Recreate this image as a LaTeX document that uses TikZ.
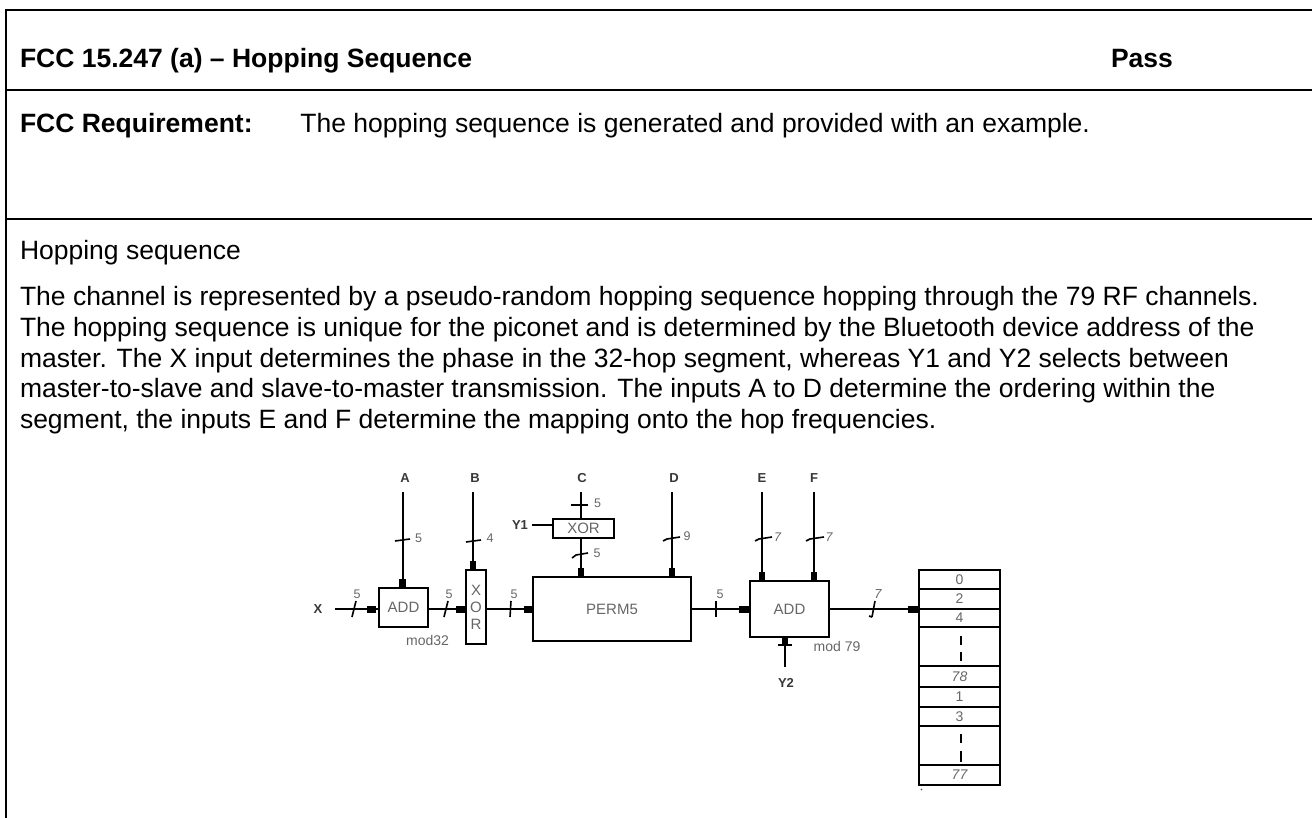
\documentclass[tikz,border=0pt]{standalone}
\usepackage{fontspec}
\setmainfont{Liberation Sans}
\definecolor{lab}{gray}{0.40}
\definecolor{inp}{gray}{0.22}
\tikzset{
  rule/.style={line width=2pt,black},
  body/.style={anchor=base west,inner sep=0pt,outer sep=0pt,font=\fontsize{26.5}{30}\selectfont,text=black},
  bodyb/.style={body,font=\fontsize{26.5}{30}\selectfont\bfseries},
  wire/.style={line width=2pt,black},
  blk/.style={line width=6.5pt,black},
  tick/.style={line width=1.6pt,black},
  box/.style={draw=black,line width=2pt,inner sep=0pt,outer sep=0pt,fill=white,text=lab,font=\fontsize{15}{15}\selectfont},
  cell/.style={box,minimum width=81pt,font=\fontsize{14}{14}\selectfont},
  lbl/.style={inner sep=0pt,text=lab,font=\fontsize{12.5}{12}\selectfont},
  modl/.style={inner sep=0pt,text=lab,font=\fontsize{14}{14}\selectfont},
  inlbl/.style={inner sep=0pt,text=inp,font=\fontsize{13}{13}\selectfont\bfseries},
}
\begin{document}
\begin{tikzpicture}[x=1pt,y=-1pt]
\useasboundingbox (0,0) rectangle (1312,818);
\fill[white] (0,0) rectangle (1312,818);
% table rules
\draw[rule] (5.5,818) -- (5.5,10) -- (1312,10);
\draw[rule] (5.5,90.5) -- (1312,90.5);
\draw[rule] (5.5,219) -- (1312,219);
% text
\node[bodyb] (title) at (20,68) {FCC 15.247 (a) – Hopping Sequence};
\node[bodyb] (pass) at (1111,68) {Pass};
\node[bodyb] (req) at (20,133) {FCC Requirement:};
\node[body,anchor=base east] (reqt) at (1090,133) {The hopping sequence is generated and provided with an example.};
\node[body] (hs) at (20,260) {Hopping sequence};
\node[body] (p1) at (20,306) {The channel is represented by a pseudo-random hopping sequence hopping through the 79 RF channels.};
\node[body] (p2) at (20,337) {The hopping sequence is unique for the piconet and is determined by the Bluetooth device address of the};
\node[body] (p3) at (20,367) {master. The X input determines the phase in the 32-hop segment, whereas Y1 and Y2 selects between};
\node[body] (p4) at (20,397) {master-to-slave and slave-to-master transmission. The inputs A to D determine the ordering within the};
\node[body] (p5) at (20,428) {segment, the inputs E and F determine the mapping onto the hop frequencies.};
% blocks
\node[box,minimum width=49pt,minimum height=39pt] (add1) at (403.5,607.5) {ADD};
\node[box,minimum width=20pt,minimum height=74pt,align=center,font=\fontsize{15}{17}\selectfont] (xor1) at (476,607) {X\\O\\R};
\node[box,minimum width=158pt,minimum height=64pt] (perm) at (612,609) {PERM5};
\node[box,minimum width=61pt,minimum height=19pt] (xor2) at (583.5,528.5) {XOR};
\node[box,minimum width=79pt,minimum height=56pt] (add2) at (789.5,609) {ADD};
% hop table
\node[cell,minimum height=19pt] (c0) at (959.5,579.5) {0};
\node[cell,minimum height=20pt] (c2) at (959.5,599) {2};
\node[cell,minimum height=18pt] (c4) at (959.5,618) {4};
\node[cell,minimum height=39pt] (cd1) at (959.5,646.5) {};
\node[cell,minimum height=21pt,font=\fontsize{14}{14}\selectfont\itshape] (c78) at (959.5,676.5) {78};
\node[cell,minimum height=20pt] (c1) at (959.5,697) {1};
\node[cell,minimum height=19pt] (c3) at (959.5,716.5) {3};
\node[cell,minimum height=39pt] (cd2) at (959.5,745.5) {};
\node[cell,minimum height=20pt,font=\fontsize{14}{14}\selectfont\itshape] (c77) at (959.5,775) {77};
\draw[wire] (960.5,636) -- (960.5,645) (960.5,652) -- (960.5,661);
\draw[wire] (960.5,734) -- (960.5,743) (960.5,751) -- (960.5,762);
\fill[black!70] (921.5,789.5) circle (0.9);
% input labels
\node[inlbl] (lA) at (405,478) {A};
\node[inlbl] (lB) at (475,478) {B};
\node[inlbl] (lC) at (582,478) {C};
\node[inlbl] (lD) at (674,478) {D};
\node[inlbl] (lE) at (762,478) {E};
\node[inlbl] (lF) at (814,478) {F};
\node[inlbl] (lX) at (318,609) {X};
\node[inlbl] (lY1) at (520,525) {Y1};
\node[inlbl] (lY2) at (786,683) {Y2};
\coordinate (tA) at (402.5,492);
\coordinate (tB) at (473,492);
\coordinate (tC) at (581,492);
\coordinate (tD) at (672,492);
\coordinate (tE) at (762,492);
\coordinate (tF) at (814,492);
\coordinate (tX) at (335,609);
\coordinate (tY1) at (532,525);
\coordinate (tY2) at (785,667);
% vertical connectors
\draw[wire] (tA) -- (tA |- add1.north);
\draw[wire] (tB) -- (tB |- xor1.north);
\draw[wire] (tC) -- (tC |- xor2.north);
\draw[wire] (xor2.south -| tC) -- (tC |- perm.north);
\draw[wire] (tD) -- (tD |- perm.north);
\draw[wire] (tE) -- (tE |- add2.north);
\draw[wire] (tF) -- (tF |- add2.north);
\draw[wire] (tY2) -- (tY2 |- add2.south);
\draw[wire] (tY1) -- (xor2.west |- tY1);
% horizontal connectors
\draw[wire] (tX) -- (add1.west |- tX);
\draw[wire] (add1.east |- tX) -- (xor1.west |- tX);
\draw[wire] (xor1.east |- tX) -- (perm.west |- tX);
\draw[wire] (perm.east |- tX) -- (add2.west |- tX);
\draw[wire] (add2.east |- tX) -- (c2.south west);
% arrow blocks
\foreach \c/\b in {tA/add1,tB/xor1,tC/perm,tD/perm,tE/add2,tF/add2}{
  \draw[blk] ([yshift=0.5pt]\c |- \b.north) -- ([yshift=9.5pt]\c |- \b.north);
}
\draw[blk,line width=7pt] (367,609) -- (376,609);
\draw[blk,line width=7pt] (456,609) -- (466,609);
\draw[blk,line width=7pt] (524,609) -- (533,609);
\draw[blk,line width=7pt] (739,609) -- (750,609);
\draw[blk,line width=7pt] (908,609) -- (919,609);
\draw[blk,line width=6pt] (tY2 |- add2.south) -- (785,644);
% bus ticks
\draw[tick] (395,541) -- (410,539);
\draw[tick] (466,542) -- (481,540);
\draw[tick] (571,505) -- (588,505);
\draw[tick] (572,558) -- (576,555) -- (588,553);
\draw[tick] (663,541) -- (667,539) -- (680,537);
\draw[tick] (755,541) -- (759,539) -- (772,537);
\draw[tick] (806,541) -- (810,539) -- (824,537);
\draw[tick] (778,645) -- (792,645);
\draw[tick] (352,617) -- (356,601);
\draw[tick] (444,617) -- (448,601);
\draw[tick] (510,617) -- (511,601);
\draw[tick] (716,617) -- (716,601);
\draw[tick] (872,617) -- (875,601) (872,617) -- (869,616);
% bus widths
\node[lbl] (n1) at (418.5,538) {5};
\node[lbl] (n2) at (490,538) {4};
\node[lbl] (n3) at (597.5,503) {5};
\node[lbl] (n4) at (597,553) {5};
\node[lbl] (n5) at (687,536) {9};
\node[lbl,font=\fontsize{12.5}{12}\selectfont\itshape] (n6) at (777.5,537) {7};
\node[lbl,font=\fontsize{12.5}{12}\selectfont\itshape] (n7) at (829,537) {7};
\node[lbl] (n8) at (357,594) {5};
\node[lbl] (n9) at (449,594) {5};
\node[lbl] (n10) at (514,594) {5};
\node[lbl] (n11) at (720,594) {5};
\node[lbl,font=\fontsize{13}{12}\selectfont\itshape] (n12) at (878,594) {7};
\node[modl] (m1) at (427.5,640) {mod32};
\node[modl] (m2) at (837,646) {mod 79};
\end{tikzpicture}
\end{document}
